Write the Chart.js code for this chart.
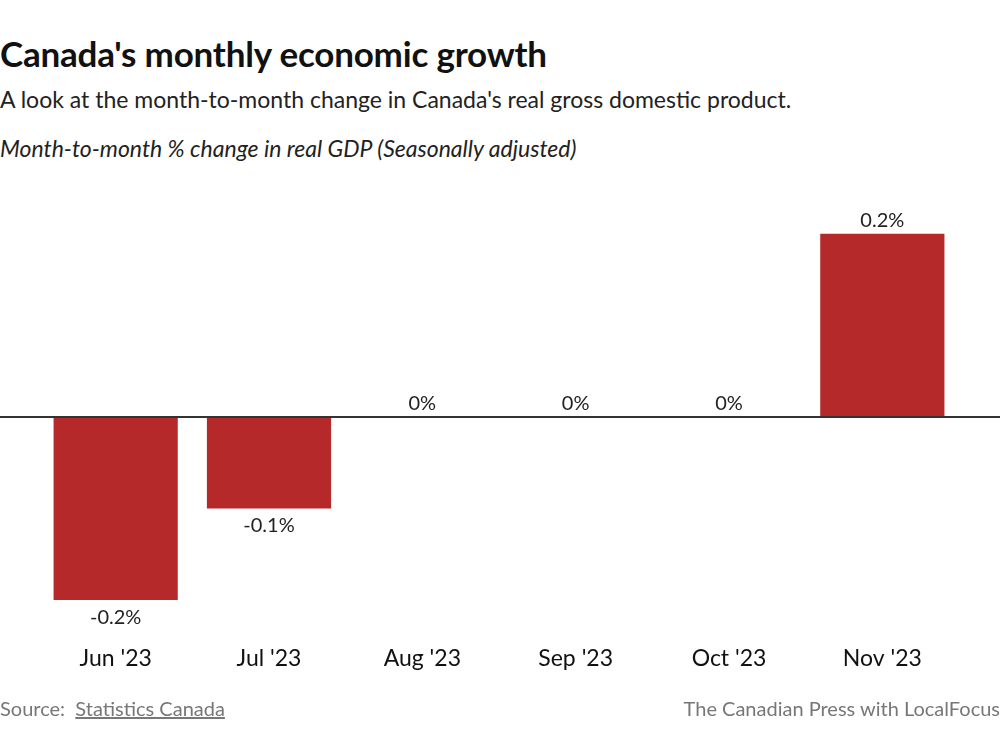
<!DOCTYPE html>
<html>
<head>
<meta charset="utf-8">
<script src="https://cdn.jsdelivr.net/npm/chart.js@4"></script>
<style>
  html, body { margin:0; padding:0; background:#fff; }
  body { width:1000px; height:750px; position:relative; overflow:hidden; font-family:Lato, 'Open Sans', sans-serif; color:#111; }
  h1 { position:absolute; left:0; top:32px; margin:0; font-size:35px; font-weight:700; letter-spacing:-0.2px; }
  .sub { position:absolute; left:0; top:85px; margin:0; font-size:23px; color:#222; }
  .unit { position:absolute; left:0; top:134px; margin:0; font-size:23px; font-style:italic; color:#222; }
  #wrap { position:absolute; left:0; top:170px; width:1000px; height:528px; }
  .foot { position:absolute; top:696px; font-size:20px; color:#777; }
  .foot a { color:#777; text-decoration:underline; }
</style>
</head>
<body>
<h1>Canada's monthly economic growth</h1>
<p class="sub">A look at the month-to-month change in Canada's real gross domestic product.</p>
<p class="unit">Month-to-month % change in real GDP (Seasonally adjusted)</p>
<div id="wrap"><canvas id="gdpChart"></canvas></div>
<div class="foot" style="left:0">Source:&nbsp; <a>Statistics Canada</a></div>
<div class="foot" style="right:0">The Canadian Press with LocalFocus</div>

<script>
// datos
const MONTHS  = ["Jun '23", "Jul '23", "Aug '23", "Sep '23", "Oct '23", "Nov '23"];
const CHANGE  = [-0.2, -0.1, 0, 0, 0, 0.2];
const LABELS  = ['-0.2%', '-0.1%', '0%', '0%', '0%', '0.2%'];

const BAR_COLOR = '#b6292a';

// línea del cero a todo lo ancho + etiquetas de valor
const zeroLine = {
  id: 'zeroLine',
  afterDatasetsDraw(chart) {
    const { ctx } = chart;
    const y = chart.scales.y.getPixelForValue(0);
    ctx.save();
    ctx.strokeStyle = '#333';
    ctx.lineWidth = 2;
    ctx.beginPath();
    ctx.moveTo(0, y);
    ctx.lineTo(chart.width, y);
    ctx.stroke();

    ctx.font = '20px Lato, sans-serif';
    ctx.fillStyle = '#222';
    ctx.textAlign = 'center';
    chart.getDatasetMeta(0).data.forEach((bar, i) => {
      if (CHANGE[i] < 0) {
        ctx.textBaseline = 'top';
        ctx.fillText(LABELS[i], bar.x, bar.y + 7);
      } else {
        ctx.textBaseline = 'bottom';
        ctx.fillText(LABELS[i], bar.x, bar.y - 3);
      }
    });
    ctx.restore();
  }
};

new Chart(document.getElementById('gdpChart'), {
  type: 'bar',
  data: {
    labels: MONTHS,
    datasets: [{ data: CHANGE, backgroundColor: BAR_COLOR, borderWidth: 0,
                 categoryPercentage: 1, barPercentage: 0.81 }],
  },
  options: {
    responsive:true, maintainAspectRatio:false, animation:false,
    layout:{ padding:{ left:39, right:41, top:18, bottom:0 } },
    plugins:{ legend:{display:false}, tooltip:{enabled:false} },
    scales:{
      x:{ grid:{display:false, drawTicks:false}, border:{display:false},
          ticks:{ font:{size:23, family:'Lato, sans-serif'}, color:'#111', padding:26 } },
      y:{ display:false, min:-0.22, max:0.25 },
    },
  },
  plugins:[zeroLine],
});
</script>
</body>
</html>
